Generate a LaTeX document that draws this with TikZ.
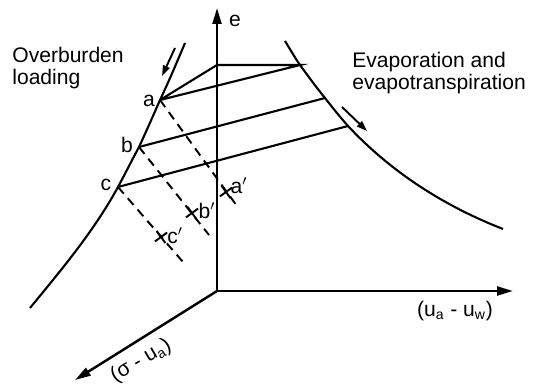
\documentclass[tikz,border=0pt]{standalone}
\usepackage{fontspec}
\setmainfont{Liberation Sans}
\usetikzlibrary{arrows.meta,shapes.misc}

\begin{document}
\begin{tikzpicture}[x=0.02cm, y=-0.02cm,
  axis/.style={line width=1.4pt, -{Triangle[length=9pt,width=5pt]}},
  curve/.style={line width=1.2pt},
  link/.style={line width=1.2pt},
  proj/.style={line width=1.1pt, dash pattern=on 5pt off 3.5pt},
  flow/.style={line width=1.1pt, -{Triangle[length=6pt,width=4pt]}},
  xmark/.style={draw, cross out, line width=1.1pt, minimum size=5pt, inner sep=0pt, rotate=-9},
  lbl/.style={font=\fontsize{12}{12}\selectfont, inner sep=0pt},
  note/.style={font=\fontsize{12}{12.5}\selectfont, align=left, inner sep=0pt}
]
  \useasboundingbox (0,0) rectangle (537,385);

  % axes
  \coordinate (O)    at (217,291);
  \coordinate (eTip) at (217,8);
  \coordinate (uTip) at (513,291);
  \coordinate (sTip) at (75,380);
  \draw[axis] (O) -- (eTip);
  \draw[axis] (O) -- (uTip);
  \draw[axis] (O) -- (sTip);
  \node[lbl] (elbl) at (235,21) {e};
  \node[lbl] (ulbl) at (455,311) {(u\textsubscript{a} - u\textsubscript{w})};
  \node[lbl, rotate=30] (slbl) at (141,361) {(σ - u\textsubscript{a})};

  % loading curve
  \coordinate (a) at (160,100);
  \coordinate (b) at (139,147);
  \coordinate (c) at (118,187);
  \draw[curve] (30,308) .. controls (62,269) and (94,231) .. (c)
    .. controls (125,174) and (132,160) .. (b)
    .. controls (146,132) and (153,116) .. (a)
    .. controls (169,81) and (177,62) .. (185,43);
  \draw[flow] (175,48) -- (162,76);
  \node[lbl] (alb) at (149,101) {a};
  \node[lbl] (blb) at (127,145) {b};
  \node[lbl] (clb) at (106,185) {c};

  % drying curve
  \coordinate (ra) at (300,65);
  \coordinate (rb) at (325,98);
  \coordinate (rc) at (348,126);
  \draw[curve] (285,41) .. controls (290,49) and (295,58) .. (ra)
    .. controls (308,76) and (316,87) .. (rb)
    .. controls (332,107) and (340,117) .. (rc)
    .. controls (391,172) and (444,206) .. (503,229);
  \draw[flow] (342,107) -- (367,131);

  % links between the two curves
  \coordinate (eA) at (217,65);
  \draw[link] (a) -- (eA) -- (ra) -- (a);
  \draw[link] (b) -- (rb);
  \draw[link] (c) -- (rc);

  % projections
  \coordinate (aEnd) at (237,206);
  \coordinate (bEnd) at (209,235);
  \coordinate (cEnd) at (183,262);
  \draw[proj] (a) -- (aEnd);
  \draw[proj] (b) -- (bEnd);
  \draw[proj] (c) -- (cEnd);
  \node[xmark] (a1) at (226,192) {};
  \node[xmark] (b1) at (192,213) {};
  \node[xmark] (c1) at (161,237) {};
  \node[lbl] (a1lb) at (239,186) {a$'$};
  \node[lbl] (b1lb) at (207,211) {b$'$};
  \node[lbl] (c1lb) at (175,236) {c$'$};

  % notes
  \node[note, anchor=north west] (over) at (12,47) {Overburden\\loading};
  \node[note, anchor=north west] (evap) at (352,52) {Evaporation and\\evapotranspiration};
\end{tikzpicture}
\end{document}
